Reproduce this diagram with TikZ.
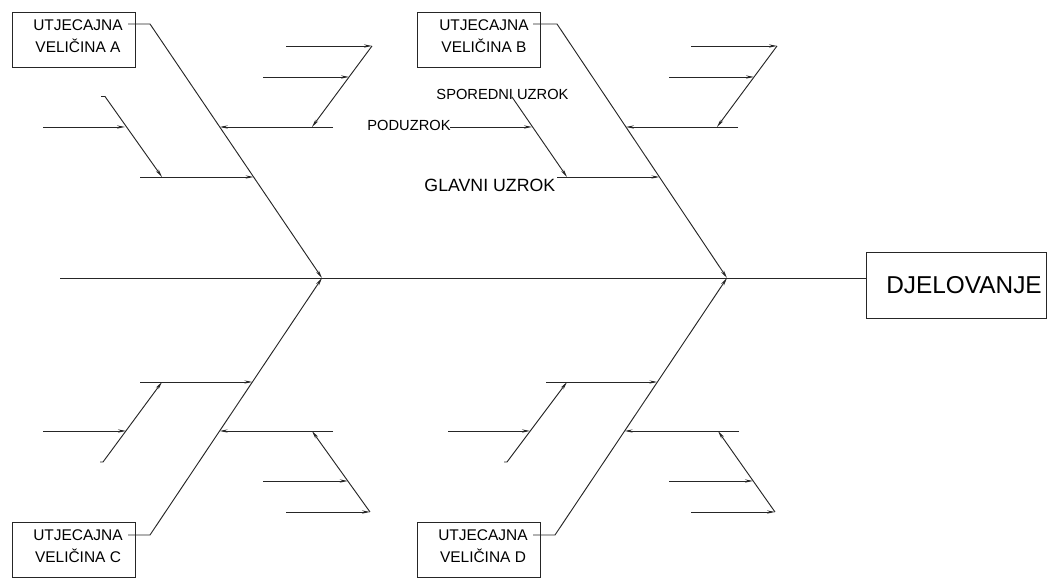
\documentclass[tikz,border=0pt]{standalone}
\usepackage{fontspec}
\setmainfont{Liberation Sans}
\usetikzlibrary{arrows.meta}
\begin{document}
\begin{tikzpicture}[x=0.75pt,y=-0.75pt,line width=0.7pt,
  ln/.style={draw=black!85},
  arr/.style={ln,-{Stealth[length=6pt,width=2.4pt]}},
  cbox/.style={draw=black!85,minimum width=92.25pt,minimum height=41.25pt,inner sep=0pt},
  ctext/.style={align=center,inner sep=0pt,font=\fontsize{11.6pt}{16.8pt}\selectfont},
  small/.style={inner sep=0pt,font=\fontsize{11pt}{13pt}\selectfont}]
\useasboundingbox (0,0) rectangle (1058,580);
% effect
\node[draw=black!85,minimum width=135pt,minimum height=49.5pt,inner sep=0pt,font=\fontsize{18.3pt}{22pt}\selectfont] (act) at (956,285) {\hspace*{12pt}DJELOVANJE};
\coordinate (tail) at (60,278);
\coordinate (jL) at (322,278);
\coordinate (jR) at (727,278);
\draw[ln] (tail) -- (tail -| act.west);
% boxes
\node[cbox] (bA) at (73.5,39.5) {};
\node[ctext] (tA) at (78,36) {UTJECAJNA\\VELIČINA A};
\node[cbox] (bB) at (478.5,39.5) {};
\node[ctext] (tB) at (484,36) {UTJECAJNA\\VELIČINA B};
\node[cbox] (bC) at (73.5,550) {};
\node[ctext] (tC) at (78,546) {UTJECAJNA\\VELIČINA C};
\node[cbox] (bD) at (478.5,550) {};
\node[ctext] (tD) at (483,546) {UTJECAJNA\\VELIČINA D};
% main bones
\coordinate (a0) at (128,24); \coordinate (a1) at (150,24);
\coordinate (b0) at (533,24); \coordinate (b1) at (557,24);
\coordinate (c0) at (128,535); \coordinate (c1) at (150,535);
\coordinate (d0) at (533,535); \coordinate (d1) at (555,535);
\draw[arr] (a0) -- (a1) -- (jL);
\draw[arr] (b0) -- (b1) -- (jR);
\draw[arr] (c0) -- (c1) -- (jL);
\draw[arr] (d0) -- (d1) -- (jR);
% ---------- group A ----------
\coordinate (A1s) at (333,127); \coordinate (A1e) at (219.7,127);
\draw[arr] (A1s) -- (A1e);
\coordinate (A2t) at (372,46); \coordinate (A2b) at (312,127);
\draw[arr] (A2t) -- (A2b);
\coordinate (A3s) at (286,46); \draw[arr] (A3s) -- (A2t);
\coordinate (A4s) at (263,77); \coordinate (A4e) at (349,77); \draw[arr] (A4s) -- (A4e);
\coordinate (A5s) at (140,177); \coordinate (A5e) at (253.6,177);
\draw[arr] (A5s) -- (A5e);
\coordinate (A6h) at (101,96.5); \coordinate (A6t) at (105,96.5); \coordinate (A6b) at (162,177);
\draw[arr] (A6h) -- (A6t) -- (A6b);
\coordinate (A7s) at (43,127); \coordinate (A7e) at (125,127); \draw[arr] (A7s) -- (A7e);
% ---------- group B ----------
\coordinate (B1s) at (738,127); \coordinate (B1e) at (625.9,127);
\draw[arr] (B1s) -- (B1e);
\coordinate (B2t) at (777,46); \coordinate (B2b) at (717,127);
\draw[arr] (B2t) -- (B2b);
\coordinate (B3s) at (691,46); \draw[arr] (B3s) -- (B2t);
\coordinate (B4s) at (669,77); \coordinate (B4e) at (754,77); \draw[arr] (B4s) -- (B4e);
\coordinate (B5s) at (557,177); \coordinate (B5e) at (659.4,177);
\draw[arr] (B5s) -- (B5e);
\coordinate (B6t) at (512,97); \coordinate (B6b) at (567,177);
\draw[arr] (B6t) -- (B6b);
\coordinate (B7s) at (450,127); \coordinate (B7e) at (532,127); \draw[arr] (B7s) -- (B7e);
\node[small,anchor=west] (lsp) at (436,94) {SPOREDNI UZROK};
\node[small,anchor=east] (lpo) at (451,125) {PODUZROK};
\node[inner sep=0pt,anchor=west,font=\fontsize{13.3pt}{16pt}\selectfont] (lgl) at (424,185) {GLAVNI UZROK};
% ---------- group C ----------
\coordinate (C1s) at (140,382); \coordinate (C1e) at (252.4,382);
\draw[arr] (C1s) -- (C1e);
\coordinate (C2h) at (100,462); \coordinate (C2b) at (103,462); \coordinate (C2t) at (162,382);
\draw[arr] (C2h) -- (C2b) -- (C2t);
\coordinate (C3s) at (43,431); \coordinate (C3e) at (126,431); \draw[arr] (C3s) -- (C3e);
\coordinate (C4s) at (333,431); \coordinate (C4e) at (219.6,431);
\draw[arr] (C4s) -- (C4e);
\coordinate (C5b) at (370,512); \coordinate (C5t) at (312,431);
\draw[arr] (C5b) -- (C5t);
\coordinate (C6s) at (263,481); \coordinate (C6e) at (347.8,481); \draw[arr] (C6s) -- (C6e);
\coordinate (C7s) at (286,512); \draw[arr] (C7s) -- (C5b);
% ---------- group D ----------
\coordinate (D1s) at (546,382); \coordinate (D1e) at (657.4,382);
\draw[arr] (D1s) -- (D1e);
\coordinate (D2h) at (504,462); \coordinate (D2b) at (507,462); \coordinate (D2t) at (567,382);
\draw[arr] (D2h) -- (D2b) -- (D2t);
\coordinate (D3s) at (448,431); \coordinate (D3e) at (530,431); \draw[arr] (D3s) -- (D3e);
\coordinate (D4s) at (739,431); \coordinate (D4e) at (624.6,431);
\draw[arr] (D4s) -- (D4e);
\coordinate (D5b) at (775,512); \coordinate (D5t) at (718,431);
\draw[arr] (D5b) -- (D5t);
\coordinate (D6s) at (669,481); \coordinate (D6e) at (753,481); \draw[arr] (D6s) -- (D6e);
\coordinate (D7s) at (691,512); \draw[arr] (D7s) -- (D5b);
\end{tikzpicture}
\end{document}
